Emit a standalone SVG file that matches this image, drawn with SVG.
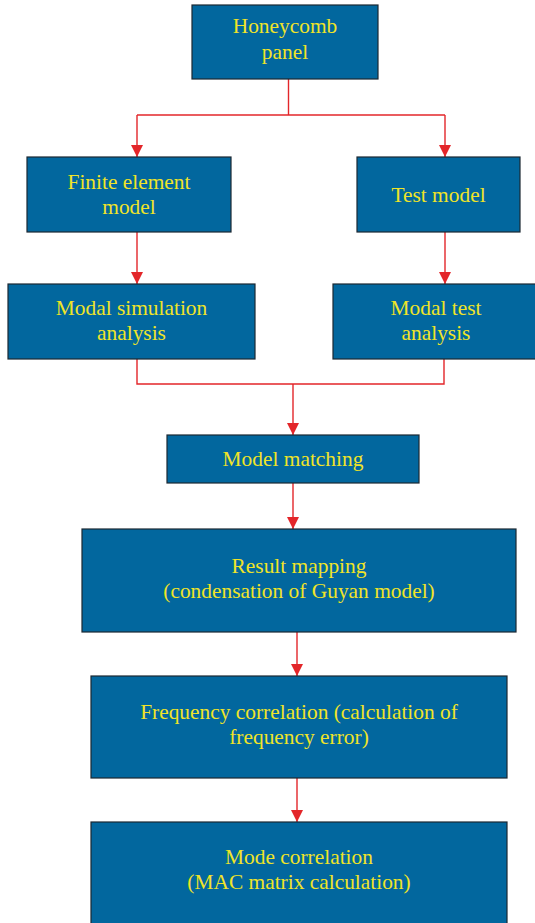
<svg xmlns="http://www.w3.org/2000/svg" width="535" height="923" viewBox="0 0 535 923">
<style>
.box{fill:#02679e;stroke:#1c2833;stroke-width:1.2}
.t{font-family:"Liberation Serif","Times New Roman",Times,serif;font-size:21.4px;fill:#f0e428;text-anchor:middle}
.c{fill:none;stroke:#e3262a;stroke-width:1.4}
</style>
<defs>
<marker id="ah" markerUnits="userSpaceOnUse" markerWidth="13" markerHeight="12" viewBox="0 0 13 12" refX="12" refY="6" orient="auto">
<path d="M0,0 L12,6 L0,12 Z" fill="#e3262a"/>
</marker>
</defs>
<rect width="535" height="923" fill="#fff"/>
<g id="connectors">
<path class="c" d="M288.5,79 V115"/>
<path class="c" d="M137,115 H445"/>
<path class="c" d="M137,115 V157" marker-end="url(#ah)"/>
<path class="c" d="M445,115 V157" marker-end="url(#ah)"/>
<path class="c" d="M137,232 V284" marker-end="url(#ah)"/>
<path class="c" d="M445,232 V284" marker-end="url(#ah)"/>
<path class="c" d="M137,359 V384 H444 V359"/>
<path class="c" d="M293,384 V435" marker-end="url(#ah)"/>
<path class="c" d="M293,483 V529" marker-end="url(#ah)"/>
<path class="c" d="M297,632 V676" marker-end="url(#ah)"/>
<path class="c" d="M297,778 V822" marker-end="url(#ah)"/>
</g>
<g id="honeycomb">
<rect class="box" x="192" y="5" width="186" height="74"/>
<text class="t" x="285" y="33">Honeycomb</text>
<text class="t" x="285" y="59">panel</text>
</g>
<g id="fem">
<rect class="box" x="27" y="157" width="204" height="75"/>
<text class="t" x="129" y="189">Finite element</text>
<text class="t" x="129" y="214">model</text>
</g>
<g id="test">
<rect class="box" x="357" y="157" width="163" height="75"/>
<text class="t" x="438.5" y="202">Test model</text>
</g>
<g id="modalsim">
<rect class="box" x="8" y="284" width="247" height="75"/>
<text class="t" x="131.5" y="315">Modal simulation</text>
<text class="t" x="131.5" y="340">analysis</text>
</g>
<g id="modaltest">
<rect class="box" x="333" y="284" width="206" height="75"/>
<text class="t" x="436" y="315">Modal test</text>
<text class="t" x="436" y="340">analysis</text>
</g>
<g id="matching">
<rect class="box" x="167" y="435" width="252" height="48"/>
<text class="t" x="293" y="466">Model matching</text>
</g>
<g id="mapping">
<rect class="box" x="82" y="529" width="434" height="103"/>
<text class="t" x="299" y="573">Result mapping</text>
<text class="t" x="299" y="598">(condensation of Guyan model)</text>
</g>
<g id="frequency">
<rect class="box" x="91" y="676" width="416" height="102"/>
<text class="t" x="299" y="719">Frequency correlation (calculation of</text>
<text class="t" x="299" y="744">frequency error)</text>
</g>
<g id="mode">
<rect class="box" x="91" y="822" width="416" height="110"/>
<text class="t" x="299" y="864">Mode correlation</text>
<text class="t" x="299" y="889">(MAC matrix calculation)</text>
</g>
</svg>
